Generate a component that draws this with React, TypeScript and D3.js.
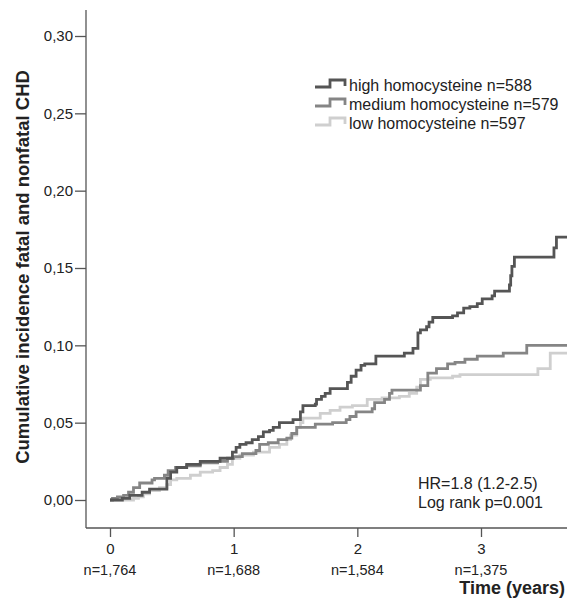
import { useRef, useEffect } from 'react';
import * as d3 from 'd3';

// Kaplan-Meier style cumulative incidence (time in years)
const highTime = [0, 0.10, 0.16, 0.26, 0.32, 0.46, 0.49, 0.54, 0.62, 0.73, 0.89, 0.99, 1.02, 1.05, 1.10, 1.15, 1.20, 1.24, 1.29, 1.32, 1.37, 1.48, 1.54, 1.56, 1.66, 1.67, 1.71, 1.74, 1.78, 1.92, 1.95, 1.99, 2.03, 2.06, 2.15, 2.38, 2.45, 2.49, 2.51, 2.56, 2.58, 2.61, 2.77, 2.81, 2.86, 2.91, 2.97, 3.01, 3.09, 3.11, 3.23, 3.24, 3.25, 3.27, 3.59, 3.61, 3.70];
const highInc = [0, 0.001, 0.003, 0.005, 0.007, 0.014, 0.018, 0.021, 0.023, 0.025, 0.027, 0.031, 0.034, 0.036, 0.037, 0.039, 0.041, 0.044, 0.045, 0.047, 0.050, 0.052, 0.057, 0.061, 0.062, 0.065, 0.067, 0.069, 0.072, 0.076, 0.080, 0.084, 0.087, 0.088, 0.093, 0.095, 0.098, 0.108, 0.110, 0.112, 0.115, 0.118, 0.119, 0.121, 0.124, 0.125, 0.127, 0.130, 0.132, 0.135, 0.139, 0.145, 0.151, 0.157, 0.163, 0.170, 0.170];

const mediumTime = [0, 0.02, 0.06, 0.11, 0.15, 0.19, 0.24, 0.34, 0.36, 0.44, 0.47, 0.53, 0.62, 0.73, 0.87, 0.95, 1.00, 1.07, 1.18, 1.21, 1.28, 1.36, 1.43, 1.47, 1.51, 1.66, 1.80, 1.91, 1.94, 1.99, 2.12, 2.14, 2.22, 2.26, 2.28, 2.51, 2.57, 2.64, 2.73, 2.79, 2.87, 2.97, 3.18, 3.37, 3.70];
const mediumInc = [0, 0.001, 0.002, 0.003, 0.005, 0.008, 0.011, 0.013, 0.014, 0.016, 0.019, 0.021, 0.022, 0.024, 0.025, 0.027, 0.028, 0.030, 0.032, 0.036, 0.037, 0.039, 0.040, 0.043, 0.047, 0.049, 0.050, 0.052, 0.054, 0.057, 0.059, 0.063, 0.065, 0.069, 0.071, 0.074, 0.082, 0.085, 0.088, 0.089, 0.091, 0.093, 0.095, 0.100, 0.100];

const lowTime = [0, 0.19, 0.23, 0.27, 0.32, 0.40, 0.46, 0.49, 0.54, 0.65, 0.73, 0.83, 0.89, 0.95, 0.99, 1.05, 1.16, 1.29, 1.37, 1.43, 1.46, 1.51, 1.54, 1.56, 1.70, 1.78, 1.86, 1.96, 2.08, 2.20, 2.34, 2.42, 2.48, 2.51, 2.59, 2.77, 2.83, 3.46, 3.56, 3.70];
const lowInc = [0, 0.001, 0.002, 0.004, 0.006, 0.008, 0.010, 0.013, 0.014, 0.016, 0.018, 0.019, 0.021, 0.023, 0.027, 0.029, 0.031, 0.034, 0.036, 0.039, 0.042, 0.047, 0.050, 0.053, 0.056, 0.058, 0.060, 0.061, 0.065, 0.066, 0.067, 0.069, 0.073, 0.078, 0.079, 0.080, 0.081, 0.085, 0.095, 0.095];

const seriesNames = ['high homocysteine n=588', 'medium homocysteine n=579', 'low homocysteine n=597'];
const seriesColors = ['#555555', '#858585', '#cfcfcf'];

const yTicks = [0, 0.05, 0.1, 0.15, 0.2, 0.25, 0.3];
const xTicks = [0, 1, 2, 3];
const atRisk = ['n=1,764', 'n=1,688', 'n=1,584', 'n=1,375'];

const FONT = 'Liberation Sans, Arial, sans-serif';

export default function App() {
  const svgRef = useRef<SVGSVGElement>(null);

  useEffect(() => {
    if (!svgRef.current) return;
    const width = 567;
    const height = 602;
    const svg = d3.select(svgRef.current);
    svg.selectAll('*').remove();
    svg.attr('width', width).attr('height', height);

    const x = d3.scaleLinear().domain([0, 3]).range([110, 481]);
    const y = d3.scaleLinear().domain([0, 0.3]).range([500, 36]);
    const axisX = 86;
    const axisY = 528;

    // clip for curves
    svg.append('defs').append('clipPath').attr('id', 'plot-clip')
      .append('rect').attr('x', axisX).attr('y', 0).attr('width', width - axisX).attr('height', axisY);

    // axes lines
    svg.append('line').attr('x1', axisX).attr('x2', axisX).attr('y1', 10).attr('y2', axisY)
      .attr('stroke', '#555').attr('stroke-width', 1.3);
    svg.append('line').attr('x1', axisX).attr('x2', width).attr('y1', axisY).attr('y2', axisY)
      .attr('stroke', '#555').attr('stroke-width', 1.3);

    // Y axis
    svg.append('g')
      .attr('transform', `translate(${axisX},0)`)
      .call(d3.axisLeft(y).tickValues(yTicks).tickSize(11).tickPadding(2)
        .tickFormat((d) => d3.format('.2f')(d as number).replace('.', ',')))
      .call((g) => g.select('.domain').remove())
      .call((g) => g.selectAll('.tick line').attr('stroke', '#555').attr('stroke-width', 1.3))
      .call((g) => g.selectAll('.tick text').attr('fill', '#222').attr('font-size', '15px').attr('font-family', FONT));

    // X axis
    svg.append('g')
      .attr('transform', `translate(0,${axisY})`)
      .call(d3.axisBottom(x).tickValues(xTicks).tickSize(9).tickPadding(6).tickFormat((d) => String(d)))
      .call((g) => g.select('.domain').remove())
      .call((g) => g.selectAll('.tick line').attr('stroke', '#555').attr('stroke-width', 1.3))
      .call((g) => g.selectAll('.tick text').attr('fill', '#222').attr('font-size', '15px').attr('font-family', FONT));

    // numbers at risk
    svg.append('g').selectAll('text').data(atRisk).enter().append('text')
      .attr('x', (_, i) => x(xTicks[i]))
      .attr('y', 575)
      .attr('text-anchor', 'middle')
      .attr('fill', '#222')
      .attr('font-size', '14.5px')
      .attr('font-family', FONT)
      .text((d) => d);

    // axis titles
    svg.append('text')
      .attr('x', 565).attr('y', 594)
      .attr('text-anchor', 'end')
      .attr('font-size', '18px').attr('font-weight', 'bold').attr('font-family', FONT)
      .attr('fill', '#222')
      .text('Time (years)');

    svg.append('text')
      .attr('transform', 'translate(29,267) rotate(-90)')
      .attr('text-anchor', 'middle')
      .attr('font-size', '18.5px').attr('font-weight', 'bold').attr('font-family', FONT)
      .attr('fill', '#222')
      .text('Cumulative incidence fatal and nonfatal CHD');

    // curves (drawn low first so the dark one sits on top)
    const series = [
      { t: highTime, v: highInc },
      { t: mediumTime, v: mediumInc },
      { t: lowTime, v: lowInc },
    ];
    const line = d3.line<[number, number]>()
      .x((d) => x(d[0]))
      .y((d) => y(d[1]))
      .curve(d3.curveStepAfter);

    const curves = svg.append('g').attr('clip-path', 'url(#plot-clip)');
    [2, 1, 0].forEach((i) => {
      const pts = series[i].t.map((t, k) => [t, series[i].v[k]] as [number, number]);
      curves.append('path')
        .attr('d', line(pts) || '')
        .attr('fill', 'none')
        .attr('stroke', seriesColors[i])
        .attr('stroke-width', 2.8)
        .attr('stroke-linejoin', 'miter');
    });

    // legend
    const legend = svg.append('g');
    seriesNames.forEach((name, i) => {
      const cy = 85 + i * 19;
      legend.append('path')
        .attr('d', `M315,${cy + 2}H330V${cy - 5}H345V${cy + 1}`)
        .attr('fill', 'none')
        .attr('stroke', seriesColors[i])
        .attr('stroke-width', 2.8);
      legend.append('text')
        .attr('x', 349).attr('y', cy + 6)
        .attr('font-size', '16px').attr('font-family', FONT)
        .attr('fill', '#222')
        .text(name);
    });

    // statistics
    svg.append('text').attr('x', 418).attr('y', 489)
      .attr('font-size', '16px').attr('font-family', FONT).attr('fill', '#222')
      .text('HR=1.8 (1.2-2.5)');
    svg.append('text').attr('x', 418).attr('y', 508)
      .attr('font-size', '16px').attr('font-family', FONT).attr('fill', '#222')
      .text('Log rank p=0.001');
  }, []);

  return (
    <div style={{ position: 'absolute', left: 0, top: 0 }}>
      <svg ref={svgRef} style={{ display: 'block', background: '#fff' }} />
    </div>
  );
}
